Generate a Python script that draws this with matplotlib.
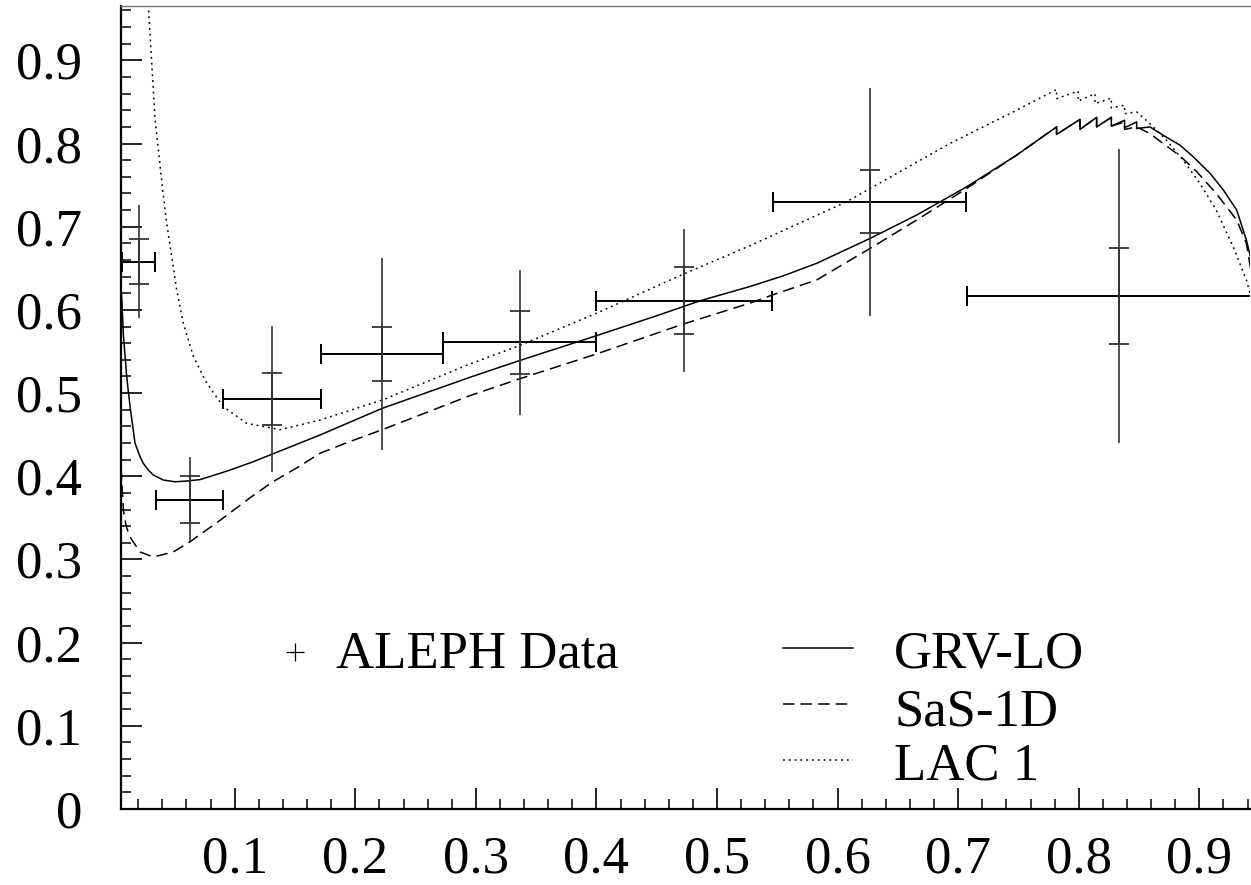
import numpy as np
import matplotlib
matplotlib.use("Agg")
import matplotlib.pyplot as plt
from matplotlib.ticker import MultipleLocator, FixedLocator, FuncFormatter
from matplotlib.lines import Line2D

plt.rcParams['font.family'] = ['Liberation Serif', 'DejaVu Serif']

# ---------------- data ----------------
x_data = [0.0205, 0.0626, 0.1310, 0.2222, 0.3365, 0.4730, 0.6265, 0.8335]
y_data = [0.658, 0.372, 0.493, 0.547, 0.561, 0.611, 0.730, 0.617]
x_halfwidth = [0.0137, 0.0281, 0.0403, 0.0509, 0.0635, 0.0730, 0.0803, 0.1265]
stat_err = [0.027, 0.028, 0.031, 0.033, 0.038, 0.040, 0.038, 0.058]
tot_err = [0.068, 0.051, 0.088, 0.116, 0.087, 0.086, 0.137, 0.177]

grv_x = [0.0058, 0.0064, 0.0076, 0.0104, 0.0132, 0.0173, 0.0215, 0.0242, 0.0284,
         0.0325, 0.0408, 0.0505, 0.0602, 0.0712, 0.0878, 0.0961, 0.1154, 0.1312,
         0.1707, 0.2224, 0.2951, 0.336, 0.40, 0.45, 0.486, 0.527, 0.555,
         0.5826, 0.627, 0.6655, 0.707, 0.7484, 0.7816, 0.7816, 0.801, 0.801,
         0.8148, 0.8148, 0.827, 0.827, 0.838, 0.838, 0.848, 0.848, 0.859, 0.870,
         0.884, 0.895, 0.909, 0.920, 0.931, 0.939, 0.943]
grv_y = [0.625, 0.612, 0.572, 0.520, 0.484, 0.440, 0.4235, 0.4155, 0.4075,
         0.4015, 0.3955, 0.3934, 0.3943, 0.396, 0.4035, 0.4075, 0.4175, 0.4267,
         0.4496, 0.4817, 0.519, 0.539, 0.569, 0.593, 0.611, 0.628, 0.641,
         0.656, 0.686, 0.714, 0.748, 0.786, 0.820, 0.811, 0.829, 0.817,
         0.8315, 0.820, 0.8315, 0.821, 0.828, 0.819, 0.826, 0.818, 0.820, 0.810,
         0.798, 0.784, 0.764, 0.744, 0.720, 0.684, 0.660]

sas_x = [0.0058, 0.0064, 0.0077, 0.0100, 0.0132, 0.0215, 0.0326, 0.0491, 0.0627,
         0.0878, 0.1154, 0.1312, 0.1514, 0.1707, 0.1928, 0.2224, 0.2951, 0.336,
         0.40, 0.472, 0.527, 0.546, 0.5826, 0.627, 0.6655, 0.707, 0.7484, 0.7816,
         0.7816, 0.801, 0.801, 0.8148, 0.8148, 0.827, 0.827, 0.838, 0.838, 0.848,
         0.859, 0.870, 0.884, 0.898, 0.914, 0.931, 0.939, 0.943]
sas_y = [0.410, 0.392, 0.359, 0.340, 0.327, 0.309, 0.303, 0.309, 0.321,
         0.347, 0.377, 0.393, 0.410, 0.4276, 0.4403, 0.456, 0.497, 0.517,
         0.547, 0.583, 0.608, 0.618, 0.636, 0.674, 0.708, 0.746, 0.786, 0.820,
         0.811, 0.829, 0.817, 0.8315, 0.820, 0.8315, 0.821, 0.826, 0.817, 0.820,
         0.812, 0.800, 0.785, 0.766, 0.740, 0.708, 0.680, 0.645]

lac_x = [0.022, 0.0284, 0.0339, 0.0403, 0.0436, 0.0478, 0.0519, 0.0574, 0.0657,
         0.0768, 0.0906, 0.110, 0.1376, 0.1707, 0.2224, 0.2951, 0.336, 0.40, 0.472,
         0.527, 0.6074, 0.627, 0.693, 0.7484, 0.7816, 0.7816, 0.7995, 0.7995,
         0.8135, 0.8135, 0.827, 0.827, 0.838, 0.838, 0.848, 0.859, 0.8727, 0.8866,
         0.9005, 0.914, 0.928, 0.939, 0.942]
lac_y = [1.10, 0.965, 0.830, 0.744, 0.704, 0.664, 0.624, 0.584, 0.544,
         0.512, 0.4836, 0.4636, 0.456, 0.4676, 0.4917, 0.535, 0.557, 0.596, 0.643,
         0.677, 0.730, 0.746, 0.800, 0.840, 0.865, 0.854, 0.863, 0.851,
         0.860, 0.848, 0.8545, 0.843, 0.846, 0.836, 0.838, 0.824, 0.804, 0.780,
         0.752, 0.720, 0.676, 0.636, 0.620]

x_ticks = [0.1, 0.2, 0.3, 0.4, 0.5, 0.6, 0.7, 0.8, 0.9]
y_ticks = [0.0, 0.1, 0.2, 0.3, 0.4, 0.5, 0.6, 0.7, 0.8, 0.9]
labels = ['ALEPH Data', 'GRV-LO', 'SaS-1D', 'LAC 1']

# ---------------- figure ----------------
W, H = 1251, 885
fig = plt.figure(figsize=(W / 100, H / 100), dpi=100)
ax = fig.add_axes([121 / W, (H - 809) / H, (1250 - 121) / W, (809 - 6.3) / H])
ax.set_xlim(0.0057, 0.942)
ax.set_ylim(0.0, 0.965)

lw = 1.1
dash_style = (0, (7.5, 4))
dot_style = (0, (1.2, 2.6))
ax.plot(grv_x, grv_y, color='black', lw=lw)
ax.plot(sas_x, sas_y, color='black', lw=lw, linestyle=dash_style)
ax.plot(lac_x, lac_y, color='black', lw=lw, linestyle=dot_style)

# data: bin widths with end caps, stat error with caps, total error without caps
ax.errorbar(x_data, y_data, xerr=x_halfwidth, fmt='none', ecolor='black',
            elinewidth=1.4, capsize=7.2, capthick=1.4)
ax.errorbar(x_data, y_data, yerr=stat_err, fmt='none', ecolor='#222222',
            elinewidth=1.2, capsize=7.2, capthick=1.2)
ax.errorbar(x_data, y_data, yerr=tot_err, fmt='none', ecolor='#333333',
            elinewidth=1.2, capsize=0)

# axes styling
ax.xaxis.set_major_locator(FixedLocator(x_ticks))
ax.yaxis.set_major_locator(FixedLocator(y_ticks))
ax.xaxis.set_minor_locator(MultipleLocator(0.02))
ax.yaxis.set_minor_locator(MultipleLocator(0.02))
fmt = FuncFormatter(lambda v, p: '0' if abs(v) < 1e-9 else f'{v:.1f}')
ax.xaxis.set_major_formatter(fmt)
ax.yaxis.set_major_formatter(fmt)
ax.tick_params(which='major', direction='in', length=15, width=1.2,
               labelsize=38, top=False, right=False)
ax.tick_params(which='minor', direction='in', length=7.3, width=1.1,
               top=False, right=False)
ax.tick_params(axis='x', which='major', pad=19)
ax.tick_params(axis='y', which='major', pad=28)
ax.spines['left'].set_linewidth(1.6)
ax.spines['bottom'].set_linewidth(1.6)
ax.spines['right'].set_visible(False)
ax.spines['top'].set_linewidth(1.0)
ax.spines['top'].set_color('#777777')


def fx(px):
    return px / W


def fy(py):
    return 1 - py / H


# legend (manual layout, in figure coordinates)
fig.add_artist(Line2D([fx(295)], [fy(652)], marker='+', markersize=13.5,
                      markeredgewidth=0.9, color='black', linestyle='none',
                      transform=fig.transFigure))
fig.text(fx(336), fy(667), labels[0], fontsize=38, va='baseline', ha='left')

styles = ['-', dash_style, dot_style]
rows_line = [648, 704, 760]
rows_text = [668, 725, 779]
for lab, st, yl, yt in zip(labels[1:], styles, rows_line, rows_text):
    fig.add_artist(Line2D([fx(783), fx(853)], [fy(yl), fy(yl)], color='black',
                          lw=lw, linestyle=st, transform=fig.transFigure))
    fig.text(fx(894), fy(yt), lab, fontsize=38, va='baseline', ha='left')

fig.savefig('out.png', dpi=100)
